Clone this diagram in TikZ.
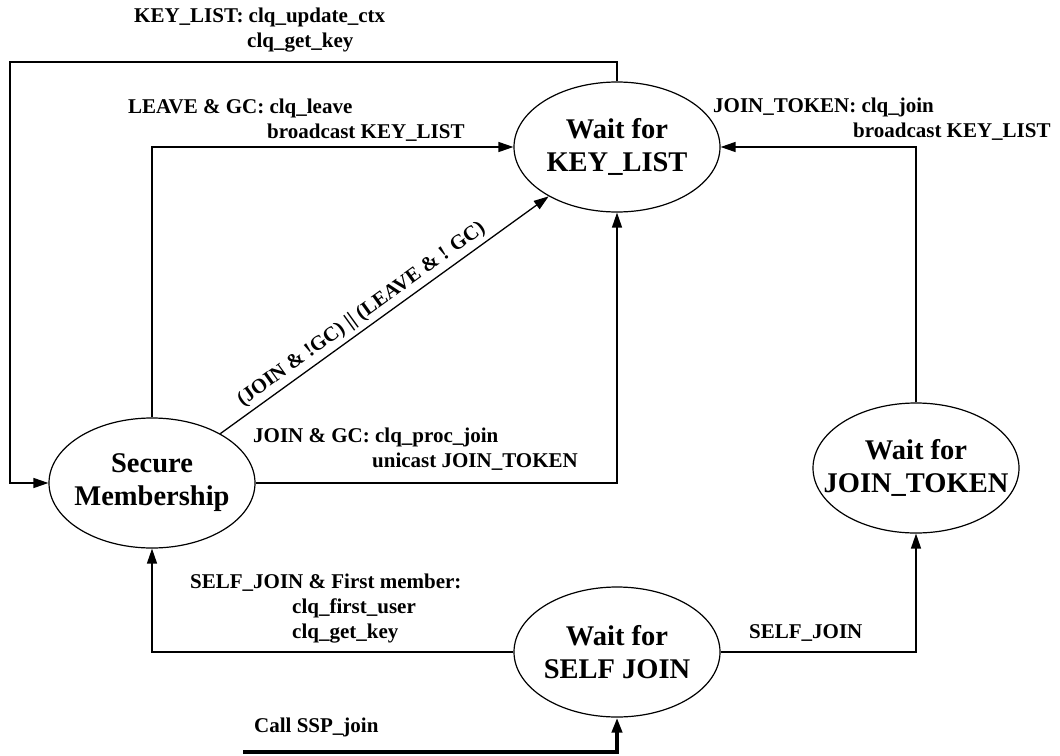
\documentclass[tikz,border=0pt]{standalone}
\usepackage{fontspec}
\setmainfont{Liberation Serif}
\usetikzlibrary{arrows.meta,shapes.geometric}
\tikzset{
 state/.style={ellipse,draw,line width=1.2pt,minimum width=206pt,minimum height=130pt,inner sep=0pt},
 statetext/.style={align=center,inner sep=0pt,font=\bfseries\fontsize{28.5}{33}\selectfont},
 lbl/.style={align=left,anchor=west,inner sep=0pt,font=\bfseries\fontsize{21}{25}\selectfont},
 flow/.style={line width=1.3pt,-{Triangle[length=15pt,width=10pt]}}
}
\begin{document}
\begin{tikzpicture}[x=1pt,y=-1pt]
\useasboundingbox (0,0) rectangle (1060,755);
\node[state,label={[statetext]center:Wait for\\KEY\_LIST}] (KL) at (617,147) {};
\node[state,label={[statetext]center:Secure\\Membership}] (SM) at (152,483) {};
\node[state,label={[statetext]center:Wait for\\JOIN\_TOKEN}] (JT) at (916,468) {};
\node[state,label={[statetext]center:Wait for\\SELF JOIN}] (SJ) at (617,652) {};
\coordinate (loop) at (10,62);
\coordinate (callin) at (243,752);
\draw[flow] (KL.north) |- (loop) |- (SM.west);
\draw[flow] (SM.north) |- (KL.west);
\draw[flow] (SM) -- node[sloped,above,pos=0.455,inner sep=4pt,font=\bfseries\fontsize{20.5}{25}\selectfont]{(JOIN \& !GC) || (LEAVE \& ! GC)} (KL);
\draw[flow] (SM.east) -| (KL.south);
\draw[flow] (JT.north) |- (KL.east);
\draw[flow] (SJ.west) -| (SM.south);
\draw[flow] (SJ.east) -| (JT.south);
\draw[flow,line width=4pt] (callin) -| (SJ.south);
\node[lbl] (lkey) at (134,30) {KEY\_LIST: clq\_update\_ctx\\\hspace*{113pt}clq\_get\_key};
\node[lbl] (lleave) at (128,120.5) {LEAVE \& GC: clq\_leave\\\hspace*{139pt}broadcast KEY\_LIST};
\node[lbl] (ltoken) at (713,119.5) {JOIN\_TOKEN: clq\_join\\\hspace*{140pt}broadcast KEY\_LIST};
\node[lbl] (ljoin) at (253,449.5) {JOIN \& GC: clq\_proc\_join\\\hspace*{119pt}unicast JOIN\_TOKEN};
\node[lbl] (lfirst) at (190,608.5) {SELF\_JOIN \& First member:\\\hspace*{102pt}clq\_first\_user\\\hspace*{102pt}clq\_get\_key};
\node[lbl] (lself) at (749,633) {SELF\_JOIN};
\node[lbl] (lcall) at (254,727) {Call SSP\_join};
\end{tikzpicture}
\end{document}
